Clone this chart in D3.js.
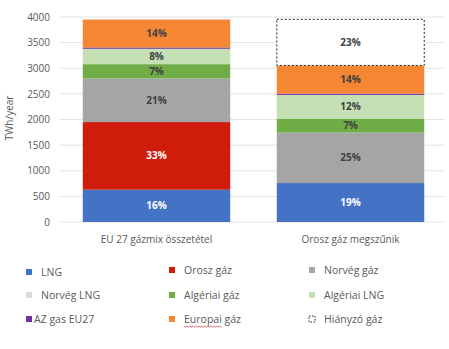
<!DOCTYPE html>
<html><head><meta charset="utf-8">
<script src="https://cdn.jsdelivr.net/npm/d3@7"></script>
<style>body{margin:0;background:#fff}svg{display:block}</style>
</head><body>
<svg id="c" width="449" height="349"></svg>
<script>
const categories = ["EU 27 gázmix összetétel", "Orosz gáz megszűnik"];
const seriesNames = ["LNG","Orosz gáz","Norvég gáz","Norvég LNG","Algériai gáz","Algériai LNG","AZ gas EU27","Europai gáz","Hiányzó gáz"];
const LNG        = [630, 760];
const orosz      = [1320, 0];
const norveg     = [850, 985];
const norvegLNG  = [0, 0];
const algGaz     = [280, 265];
const algLNG     = [300, 470];
const azGas      = [25, 25];
const europai    = [545, 550];
const hianyzo    = [0, 900];
const pctLabels = {
  "LNG": ["16%","19%"], "Orosz gáz": ["33%",""], "Norvég gáz": ["21%","25%"],
  "Algériai gáz": ["7%","7%"], "Algériai LNG": ["8%","12%"], "Europai gáz": ["14%","14%"], "Hiányzó gáz": ["","23%"]
};
const yTicks = [0,500,1000,1500,2000,2500,3000,3500,4000];
const colors = ["#4472C4","#D01C0B","#A5A5A5","#D9D9D9","#70AD47","#C5E0B4","#7030A0","#F58634","#FFFFFF"];
const labelColors = {"LNG":"#fff","Orosz gáz":"#fff"};

const seriesVals = [LNG, orosz, norveg, norvegLNG, algGaz, algLNG, azGas, europai, hianyzo];
const rows = categories.map((c,i)=>{const r={cat:c}; seriesNames.forEach((s,j)=>r[s]=seriesVals[j][i]); return r;});
const stack = d3.stack().keys(seriesNames)(rows);

const svg = d3.select("#c");
const y = d3.scaleLinear().domain([0,4000]).range([222,17]);
const x = d3.scaleBand().domain(categories).range([59,448]).paddingInner(0.24).paddingOuter(0.1225);
const color = d3.scaleOrdinal().domain(seriesNames).range(colors);

svg.append("g").selectAll("line").data(yTicks).join("line")
  .attr("x1",59).attr("x2",445).attr("y1",d=>y(d)).attr("y2",d=>y(d))
  .attr("stroke","#e3e3e3").attr("stroke-width",1);

const yAxis = d3.axisLeft(y).tickValues(yTicks).tickSize(0).tickPadding(8).tickFormat(d3.format("d"));
const gy = svg.append("g").attr("transform","translate(58,0)").call(yAxis);
gy.select(".domain").remove();
gy.selectAll("text").attr("font-family","'Open Sans', sans-serif").attr("font-size",10).attr("fill","#595959");

svg.append("text").attr("transform","translate(13,118) rotate(-90)").attr("text-anchor","middle")
  .attr("font-family","'Open Sans', sans-serif").attr("font-size",10).attr("fill","#595959").text("TWh/year");

const groups = svg.append("g").selectAll("g").data(stack).join("g");
groups.selectAll("rect").data(s=>s.map((d,i)=>({key:s.key,d,i}))).join("rect")
  .filter(o=>o.d[1]-o.d[0]>0)
  .attr("x",o=>x(categories[o.i])).attr("width",x.bandwidth())
  .attr("y",o=>y(o.d[1])).attr("height",o=>y(o.d[0])-y(o.d[1]))
  .attr("fill",o=>color(o.key))
  .attr("stroke",o=>o.key==="Hiányzó gáz"?"#222":"none")
  .attr("stroke-dasharray",o=>o.key==="Hiányzó gáz"?"2,2":null)
  .attr("stroke-width",1);

groups.selectAll("text").data(s=>s.map((d,i)=>({key:s.key,d,i}))).join("text")
  .filter(o=>pctLabels[o.key] && pctLabels[o.key][o.i])
  .attr("x",o=>x(categories[o.i])+x.bandwidth()/2)
  .attr("y",o=>(y(o.d[0])+y(o.d[1]))/2)
  .attr("dy","0.35em").attr("text-anchor","middle")
  .attr("font-family","'Open Sans', sans-serif").attr("font-size",10).attr("font-weight","bold")
  .attr("fill",o=>labelColors[o.key]||"#404040")
  .text(o=>pctLabels[o.key][o.i]);

const xAxis = d3.axisBottom(x).tickSize(0).tickPadding(10);
const gx = svg.append("g").attr("transform","translate(0,226)").call(xAxis);
gx.select(".domain").remove();
gx.selectAll("text").attr("font-family","'Open Sans', sans-serif").attr("font-size",10).attr("fill","#595959");

const legCols = [29, 172, 312];
const legRows = [272, 295, 319];
const leg = svg.append("g").selectAll("g").data(seriesNames).join("g")
  .attr("transform",(d,i)=>`translate(${legCols[i%3]},${legRows[Math.floor(i/3)] - (i<3 && i>0 ? 2 : 0)})`);
leg.append("rect").attr("x",-3).attr("y",-3).attr("width",6).attr("height",6)
  .attr("fill",d=>color(d))
  .attr("stroke",d=>d==="Hiányzó gáz"?"#222":"none")
  .attr("stroke-dasharray",d=>d==="Hiányzó gáz"?"1.5,1.5":null);
leg.append("text").attr("x",(d,i)=>i===6?5:12).attr("dy","0.35em")
  .attr("font-family","'Open Sans', sans-serif").attr("font-size",10.5).attr("fill","#595959")
  .text(d=>d);
const eu = leg.filter(d=>d==="Europai gáz");
const w = eu.select("text").node().getSubStringLength(0,7);
const n = Math.round(w/1.5);
eu.append("path").attr("d",()=>{let p="M12,7";for(let k=0;k<n;k++){p+=` l1.5,${k%2?-1.2:1.2}`;}return p;})
  .attr("fill","none").attr("stroke","#e03030").attr("stroke-width",0.7);
</script>
</body></html>
